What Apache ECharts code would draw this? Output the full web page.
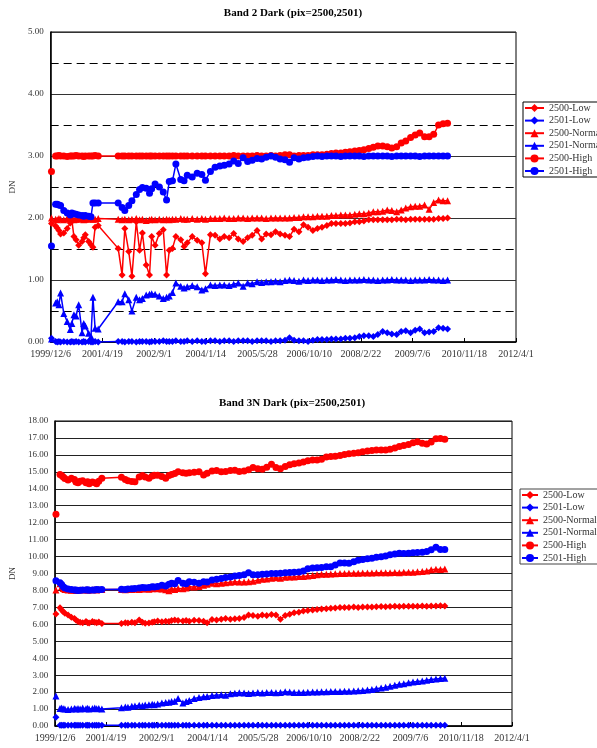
<!DOCTYPE html>
<html><head><meta charset="utf-8">
<script src="https://cdn.jsdelivr.net/npm/echarts@6/dist/echarts.min.js"></script>
<style>
html,body{margin:0;padding:0;background:#fff;}
#c1{position:absolute;left:0;top:0;width:597px;height:374px;}
#c2{position:absolute;left:0;top:374px;width:597px;height:374px;}
</style>
</head><body>
<div id="c1"></div><div id="c2"></div>
<script>
// x axis: days since 1999/12/6, one tick label every 500 days
const tickLabels = ['1999/12/6','2001/4/19','2002/9/1','2004/1/14','2005/5/28','2006/10/10','2008/2/22','2009/7/6','2010/11/18','2012/4/1'];
const seriesNames = ['2500-Low','2501-Low','2500-Normal','2501-Normal','2500-High','2501-High'];

// observation days (days after 1999/12/6)
const obsDay = [8,48,64,80,96,127,160,190,205,225,246,271,304,320,335,367,390,409,430,460,
653,691,717,755,786,828,860,887,924,956,977,1010,1051,1089,1121,1147,1178,1211,1258,1290,1321,1369,1417,1462,1497,1545,
1590,1636,1679,1726,1770,1814,1861,1905,1949,1996,2040,2084,2131,2175,2219,2266,2310,2354,2401,2445,2489,2536,2580,2624,2671,2715,2759,2806,2850,2894,2941,2985,3029,3076,3120,3164,3211,3255,3299,3346,3390,3434,3481,3525,3569,3616,3660,3704,3751,3795,3838];

// ---- Band 2 ----
const b2_2500Low = [1.91,1.87,1.84,1.80,1.74,1.76,1.83,1.92,1.97,1.70,1.65,1.56,1.62,1.68,1.73,1.62,1.57,1.53,1.85,1.88,
1.51,1.08,1.83,1.46,1.06,1.94,1.48,1.76,1.24,1.08,1.70,1.56,1.75,1.81,1.08,1.48,1.51,1.70,1.65,1.54,1.60,1.70,1.64,1.60,1.10,1.73,
1.72,1.66,1.70,1.68,1.75,1.66,1.62,1.68,1.72,1.80,1.66,1.74,1.73,1.78,1.74,1.72,1.70,1.82,1.78,1.89,1.85,1.80,1.83,1.85,1.88,1.91,1.91,1.91,1.91,1.92,1.94,1.94,1.95,1.97,1.97,1.97,1.97,1.97,1.97,1.98,1.98,1.97,1.98,1.98,1.98,1.98,1.98,1.98,1.99,1.99,2.00];
const b2_2501Low = [0.06,0.01,0.00,0.01,0.00,0.01,0.00,0.00,0.01,0.00,0.01,0.00,0.00,0.01,0.00,0.01,0.00,0.00,0.01,0.00,
0.01,0.01,0.00,0.01,0.01,0.00,0.01,0.01,0.01,0.00,0.01,0.01,0.01,0.02,0.01,0.01,0.01,0.02,0.01,0.01,0.02,0.01,0.02,0.01,0.01,0.02,
0.02,0.01,0.02,0.02,0.01,0.02,0.02,0.02,0.01,0.02,0.02,0.02,0.01,0.02,0.02,0.03,0.07,0.03,0.02,0.02,0.01,0.03,0.04,0.04,0.04,0.05,0.05,0.05,0.06,0.06,0.07,0.09,0.10,0.10,0.09,0.12,0.17,0.15,0.13,0.12,0.17,0.18,0.15,0.19,0.21,0.15,0.16,0.17,0.23,0.22,0.21];
const b2_2500Normal = [2.00,1.98,1.97,1.99,1.98,1.97,1.99,1.98,1.99,1.97,1.98,1.98,1.99,1.97,1.98,1.98,1.99,1.98,1.98,1.99,
1.98,1.97,1.98,1.97,1.98,1.99,1.97,1.98,1.96,1.97,1.98,1.97,1.98,1.97,1.98,1.97,1.98,1.98,1.99,1.98,1.98,1.99,1.98,1.99,1.98,1.99,
1.99,1.99,2.00,1.99,1.99,2.00,2.00,1.99,2.00,2.00,2.00,1.99,2.00,2.00,2.00,2.00,2.00,2.01,2.01,2.02,2.02,2.02,2.03,2.03,2.03,2.04,2.04,2.05,2.05,2.05,2.06,2.07,2.07,2.08,2.10,2.10,2.11,2.13,2.12,2.10,2.13,2.16,2.18,2.19,2.19,2.21,2.14,2.25,2.29,2.28,2.28];
const b2_2501Normal = [0.05,0.63,0.65,0.60,0.79,0.46,0.33,0.20,0.30,0.44,0.42,0.60,0.15,0.30,0.26,0.14,0.09,0.72,0.22,0.21,
0.65,0.65,0.78,0.68,0.50,0.72,0.68,0.70,0.76,0.77,0.78,0.77,0.74,0.70,0.72,0.74,0.80,0.95,0.90,0.87,0.89,0.91,0.89,0.84,0.86,0.92,
0.91,0.92,0.92,0.91,0.93,0.95,0.90,0.95,0.94,0.97,0.96,0.97,0.97,0.98,0.97,0.99,1.00,0.99,0.98,1.00,0.99,1.00,1.00,0.99,1.00,1.00,1.01,1.00,0.99,1.00,1.00,1.00,1.01,1.00,1.00,0.99,1.00,1.00,1.01,1.00,1.00,1.00,0.99,1.00,1.00,1.00,1.01,1.00,1.00,0.99,1.00];
const b2_2500High = [2.75,3.00,3.00,3.01,3.00,3.00,2.99,3.00,3.00,3.00,3.01,3.00,3.00,2.99,3.00,3.00,3.00,3.00,3.01,3.00,
3.00,3.00,3.00,3.00,3.00,3.00,3.00,3.00,3.00,3.00,3.00,3.00,3.00,3.00,3.00,3.00,3.00,3.00,3.00,3.00,3.00,3.00,3.00,3.00,3.00,3.00,
3.00,3.00,3.00,3.00,3.01,3.00,3.00,3.00,3.00,3.01,3.00,3.00,3.01,3.00,3.01,3.02,3.02,3.00,3.01,3.01,3.01,3.02,3.02,3.02,3.03,3.04,3.05,3.05,3.06,3.07,3.08,3.09,3.10,3.12,3.14,3.16,3.16,3.15,3.13,3.15,3.21,3.24,3.30,3.34,3.37,3.31,3.31,3.35,3.50,3.52,3.53];
const b2_2501High = [1.55,2.22,2.22,2.21,2.20,2.12,2.08,2.05,2.08,2.07,2.06,2.05,2.04,2.03,2.04,2.03,2.02,2.24,2.24,2.24,
2.24,2.17,2.12,2.20,2.28,2.38,2.46,2.49,2.48,2.40,2.47,2.55,2.50,2.42,2.29,2.59,2.60,2.87,2.62,2.60,2.69,2.66,2.72,2.70,2.61,2.75,
2.82,2.84,2.85,2.87,2.92,2.88,2.97,2.91,2.93,2.96,2.95,2.98,3.00,2.98,2.95,2.94,2.90,2.97,2.95,2.97,2.98,2.99,3.00,2.99,3.00,3.00,3.00,2.99,3.00,3.00,3.00,3.00,2.99,3.00,3.00,3.00,3.00,3.00,2.99,3.00,3.00,3.00,3.00,3.00,2.99,3.00,3.00,3.00,3.00,3.00,3.00];

// ---- Band 3N ----
const b3_2500Low = [6.61,6.98,6.85,6.75,6.65,6.55,6.42,6.35,6.25,6.16,6.12,6.10,6.16,6.10,6.08,6.16,6.12,6.10,6.14,6.05,
6.05,6.10,6.08,6.12,6.10,6.26,6.12,6.06,6.08,6.12,6.15,6.20,6.15,6.18,6.16,6.22,6.26,6.22,6.20,6.22,6.18,6.24,6.22,6.18,6.10,6.28,
6.25,6.30,6.35,6.30,6.33,6.35,6.40,6.55,6.52,6.48,6.55,6.52,6.58,6.55,6.30,6.52,6.60,6.68,6.72,6.78,6.82,6.85,6.88,6.90,6.92,6.95,6.97,7.00,7.00,7.00,7.02,7.00,7.02,7.03,7.03,7.04,7.05,7.04,7.05,7.06,7.05,7.06,7.07,7.06,7.07,7.08,7.07,7.08,7.08,7.09,7.08];
const b3_2501Low = [0.51,0.05,0.04,0.05,0.05,0.04,0.05,0.05,0.04,0.05,0.05,0.04,0.05,0.05,0.04,0.05,0.05,0.04,0.05,0.05,
0.05,0.05,0.04,0.05,0.05,0.04,0.05,0.05,0.05,0.04,0.05,0.05,0.04,0.05,0.05,0.05,0.04,0.05,0.05,0.04,0.05,0.05,0.05,0.04,0.05,0.05,
0.05,0.05,0.04,0.05,0.05,0.05,0.04,0.05,0.05,0.05,0.04,0.05,0.05,0.05,0.04,0.05,0.05,0.05,0.04,0.05,0.05,0.05,0.04,0.05,0.05,0.05,0.04,0.05,0.05,0.05,0.04,0.05,0.05,0.05,0.04,0.05,0.05,0.05,0.04,0.05,0.05,0.05,0.04,0.05,0.05,0.05,0.04,0.05,0.05,0.05,0.05];
const b3_2500Normal = [8.03,8.40,8.22,8.12,8.05,8.03,8.01,8.03,8.00,8.02,8.04,8.02,8.05,8.03,8.02,8.04,8.06,8.03,8.05,8.05,
8.05,8.04,8.06,8.05,8.07,8.06,8.08,8.10,8.07,8.10,8.12,8.10,8.08,8.04,7.98,8.10,8.06,8.12,8.10,8.15,8.22,8.20,8.24,8.30,8.36,8.42,
8.40,8.42,8.45,8.48,8.52,8.50,8.50,8.52,8.55,8.60,8.66,8.68,8.72,8.75,8.72,8.78,8.80,8.80,8.82,8.82,8.85,8.88,8.92,8.95,8.96,8.97,8.98,9.00,9.00,9.01,9.02,9.02,9.03,9.03,9.03,9.04,9.04,9.05,9.04,9.06,9.05,9.07,9.07,9.08,9.10,9.12,9.15,9.22,9.25,9.24,9.26];
const b3_2501Normal = [1.77,1.04,1.06,1.02,1.00,0.98,1.00,1.03,1.01,1.04,1.00,1.06,1.02,1.05,1.00,1.03,1.06,1.02,1.04,1.00,
1.08,1.12,1.10,1.16,1.18,1.22,1.20,1.24,1.26,1.28,1.26,1.30,1.36,1.38,1.40,1.44,1.46,1.62,1.36,1.45,1.50,1.62,1.68,1.73,1.74,1.80,
1.82,1.84,1.82,1.90,1.93,1.96,1.95,1.92,1.95,1.97,1.95,1.97,1.98,1.96,1.98,2.02,2.00,1.98,1.98,1.97,1.99,2.00,2.00,2.02,2.02,2.03,2.03,2.04,2.05,2.05,2.06,2.08,2.10,2.12,2.15,2.20,2.24,2.28,2.34,2.40,2.46,2.50,2.55,2.60,2.63,2.66,2.70,2.74,2.78,2.80,2.82];
const b3_2500High = [12.49,14.85,14.78,14.70,14.60,14.52,14.62,14.55,14.40,14.35,14.45,14.48,14.35,14.42,14.30,14.40,14.35,14.30,14.45,14.62,
14.68,14.55,14.48,14.43,14.42,14.70,14.78,14.70,14.62,14.75,14.80,14.80,14.72,14.62,14.78,14.85,14.90,15.00,14.95,14.92,14.95,14.98,15.00,14.82,14.92,15.05,
15.08,15.00,15.02,15.08,15.10,15.02,15.05,15.12,15.25,15.18,15.15,15.27,15.45,15.25,15.18,15.32,15.42,15.48,15.52,15.58,15.65,15.70,15.70,15.75,15.88,15.90,15.92,15.96,16.02,16.06,16.10,16.12,16.18,16.23,16.26,16.29,16.29,16.29,16.34,16.40,16.50,16.56,16.62,16.72,16.78,16.68,16.65,16.76,16.95,16.96,16.92];
const b3_2501High = [8.57,8.45,8.35,8.22,8.15,8.08,8.05,8.03,8.02,8.00,8.01,8.03,8.02,8.04,8.01,8.03,8.02,8.05,8.04,8.06,
8.07,8.06,8.08,8.10,8.12,8.14,8.18,8.16,8.18,8.22,8.20,8.24,8.30,8.26,8.36,8.42,8.40,8.58,8.42,8.40,8.52,8.48,8.42,8.52,8.50,8.62,
8.66,8.70,8.76,8.80,8.85,8.88,8.92,9.05,8.92,8.92,8.95,8.97,9.00,9.00,9.01,9.04,9.06,9.07,9.09,9.15,9.28,9.32,9.34,9.36,9.40,9.40,9.50,9.62,9.62,9.60,9.70,9.78,9.82,9.87,9.90,9.96,9.99,10.04,10.10,10.15,10.20,10.18,10.20,10.22,10.24,10.26,10.30,10.40,10.55,10.42,10.42];

const FONT = 'Liberation Serif';
const RED = '#ff0000', BLUE = '#0000ff';
const styles = [
  {color: RED, symbol: 'diamond'},
  {color: BLUE, symbol: 'diamond'},
  {color: RED, symbol: 'triangle'},
  {color: BLUE, symbol: 'triangle'},
  {color: RED, symbol: 'circle'},
  {color: BLUE, symbol: 'circle'}
];

// the first observation stands apart from the rest (no connecting line)
function pairs(vals) {
  const out = [];
  for (let i = 0; i < vals.length; i++) {
    if (i === 1) out.push([(obsDay[0] + obsDay[1]) / 2, null]);
    out.push([obsDay[i], vals[i]]);
  }
  return out;
}

function makeOption(cfg) {
  return {
    animation: false,
    title: {
      text: cfg.title, left: cfg.titleX, top: cfg.titleTop, textAlign: 'center',
      textStyle: {fontFamily: FONT, fontWeight: 'bold', fontSize: 11, color: '#000'}
    },
    legend: {
      orient: 'vertical', left: cfg.legLeft, top: cfg.legTop,
      itemWidth: cfg.legIconW, itemHeight: 10, itemGap: 2.6,
      padding: cfg.legPad,
      borderColor: cfg.legBorder, borderWidth: 1,
      textStyle: {fontFamily: FONT, fontSize: 10, color: '#333', lineHeight: 10},
      data: seriesNames
    },
    grid: {
      left: cfg.grid[0], top: cfg.grid[1], width: cfg.grid[2], height: cfg.grid[3],
      show: true, borderColor: '#000', borderWidth: 1, containLabel: false
    },
    xAxis: {
      type: 'value', min: 0, max: 4500, interval: 500,
      axisLine: {show: true, lineStyle: {color: '#000', width: 1.5}},
      axisTick: {show: true, inside: true, length: 4, lineStyle: {color: '#000'}},
      splitLine: {show: false},
      axisLabel: {
        fontFamily: FONT, fontSize: 10, color: '#333', margin: cfg.xMargin,
        showMinLabel: true, showMaxLabel: true,
        formatter: v => tickLabels[Math.round(v / 500)] || ''
      }
    },
    yAxis: {
      type: 'value', min: 0, max: cfg.yMax, interval: 1,
      name: 'DN', nameLocation: 'middle', nameGap: cfg.nameGap,
      nameTextStyle: {fontFamily: FONT, fontSize: 9, color: '#333'},
      axisLine: {show: true, lineStyle: {color: '#000', width: 1.5}},
      axisTick: {show: false},
      axisLabel: {fontFamily: FONT, fontSize: 9, color: '#333', margin: 7, formatter: v => v.toFixed(2)},
      splitLine: {show: true, lineStyle: {color: cfg.splitColor, width: 1}},
      minorTick: {show: false, splitNumber: 2},
      minorSplitLine: {show: cfg.dashedHalf, lineStyle: {color: '#000', width: 1, type: [8, 5]}}
    },
    series: cfg.data.map((vals, i) => ({
      type: 'line', name: seriesNames[i], data: pairs(vals),
      symbol: styles[i].symbol, symbolSize: 7, showSymbol: true,
      lineStyle: {color: styles[i].color, width: 1.5},
      itemStyle: {color: styles[i].color},
      emphasis: {disabled: true}
    }))
  };
}

const chart1 = echarts.init(document.getElementById('c1'), null, {renderer: 'canvas'});
chart1.setOption(makeOption({
  title: 'Band 2 Dark (pix=2500,2501)', titleX: 288, titleTop: 3,
  legLeft: 523, legTop: 102, legIconW: 19, legPad: [1, 3, 1, 1], legBorder: '#000',
  grid: [45, 32, 471, 310], xMargin: 7, yMax: 5, nameGap: 29,
  splitColor: '#333', dashedHalf: true,
  data: [b2_2500Low, b2_2501Low, b2_2500Normal, b2_2501Normal, b2_2500High, b2_2501High]
}));

const chart2 = echarts.init(document.getElementById('c2'), null, {renderer: 'canvas'});
chart2.setOption(makeOption({
  title: 'Band 3N Dark (pix=2500,2501)', titleX: 287, titleTop: 19,
  legLeft: 520, legTop: 115, legIconW: 16, legPad: [1, 1, 1, 1], legBorder: '#444',
  grid: [54, 47, 458, 305], xMargin: 7, yMax: 18, nameGap: 28,
  splitColor: '#222', dashedHalf: false,
  data: [b3_2500Low, b3_2501Low, b3_2500Normal, b3_2501Normal, b3_2500High, b3_2501High]
}));
</script>
</body></html>
